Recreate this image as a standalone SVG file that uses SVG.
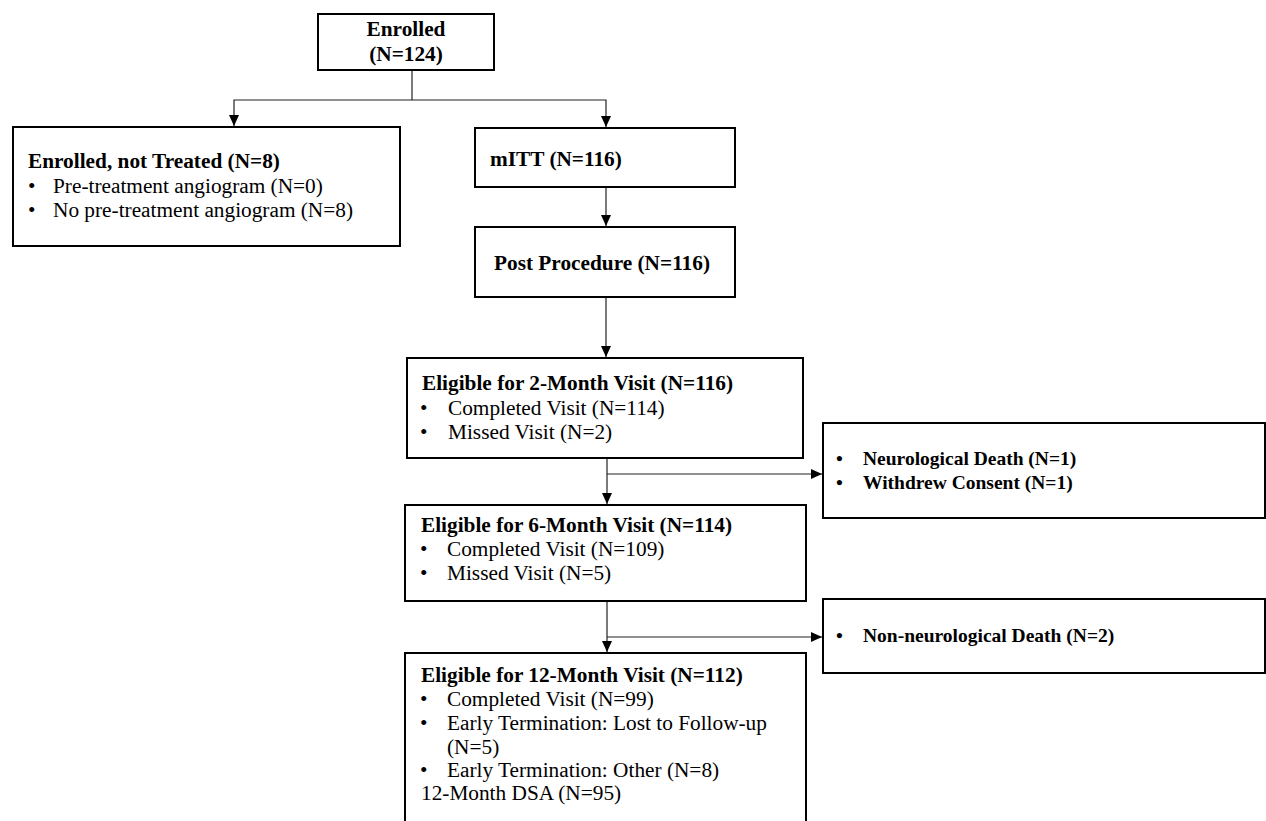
<svg xmlns="http://www.w3.org/2000/svg" width="1266" height="821" viewBox="0 0 1266 821">
<style>
  .box { fill: #ffffff; stroke: #000000; stroke-width: 2; }
  .t { font-family: "Liberation Serif", "Times New Roman", serif; font-size: 21.3px; fill: #000000; }
  .b { font-weight: bold; }
  .s { font-family: "Liberation Serif", "Times New Roman", serif; font-size: 19.5px; font-weight: bold; fill: #000000; }
  .c { fill: none; stroke: #222222; stroke-width: 1.2; }
</style>
<defs>
  <marker id="arr" markerUnits="userSpaceOnUse" markerWidth="12" markerHeight="12" refX="11" refY="5" orient="auto">
    <path d="M0,0 L11,5 L0,10 Z" fill="#000000"/>
  </marker>
</defs>
<rect width="1266" height="821" fill="#ffffff"/>

<g id="connectors">
  <path class="c" d="M412,70 V100"/>
  <path class="c" d="M412,100 H234 V126" marker-end="url(#arr)"/>
  <path class="c" d="M412,100 H606 V127" marker-end="url(#arr)"/>
  <path class="c" d="M606,187 V226" marker-end="url(#arr)"/>
  <path class="c" d="M606,297 V357" marker-end="url(#arr)"/>
  <path class="c" d="M607,458 V504" marker-end="url(#arr)"/>
  <path class="c" d="M607,474 H822" marker-end="url(#arr)"/>
  <path class="c" d="M607,601 V652" marker-end="url(#arr)"/>
  <path class="c" d="M607,637 H822" marker-end="url(#arr)"/>
</g>

<g id="enrolled">
  <rect class="box" x="318" y="14" width="176" height="56"/>
  <text class="t b" x="406" y="36" text-anchor="middle">Enrolled</text>
  <text class="t b" x="406" y="61" text-anchor="middle">(N=124)</text>
</g>

<g id="not-treated">
  <rect class="box" x="13" y="127" width="387" height="119"/>
  <text class="t b" x="28" y="168">Enrolled, not Treated (N=8)</text>
  <text class="t" x="28" y="193">•</text>
  <text class="t" x="53" y="193">Pre-treatment angiogram (N=0)</text>
  <text class="t" x="28" y="217">•</text>
  <text class="t" x="53" y="217">No pre-treatment angiogram (N=8)</text>
</g>

<g id="mitt">
  <rect class="box" x="475" y="128" width="260" height="59"/>
  <text class="t b" x="490" y="166">mITT (N=116)</text>
</g>

<g id="post-procedure">
  <rect class="box" x="475" y="227" width="260" height="70"/>
  <text class="t b" x="494" y="270">Post Procedure (N=116)</text>
</g>

<g id="month2">
  <rect class="box" x="407" y="358" width="396" height="100"/>
  <text class="t b" x="422" y="390">Eligible for 2-Month Visit (N=116)</text>
  <text class="t" x="420" y="415">•</text>
  <text class="t" x="448" y="415">Completed Visit (N=114)</text>
  <text class="t" x="420" y="439">•</text>
  <text class="t" x="448" y="439">Missed Visit (N=2)</text>
</g>

<g id="exit1">
  <rect class="box" x="823" y="423" width="442" height="95"/>
  <text class="s" x="836" y="465">•</text>
  <text class="s" x="863" y="465">Neurological Death (N=1)</text>
  <text class="s" x="836" y="489">•</text>
  <text class="s" x="863" y="489">Withdrew Consent (N=1)</text>
</g>

<g id="month6">
  <rect class="box" x="405" y="505" width="401" height="96"/>
  <text class="t b" x="421" y="532">Eligible for 6-Month Visit (N=114)</text>
  <text class="t" x="420" y="556">•</text>
  <text class="t" x="447" y="556">Completed Visit (N=109)</text>
  <text class="t" x="420" y="580">•</text>
  <text class="t" x="447" y="580">Missed Visit (N=5)</text>
</g>

<g id="exit2">
  <rect class="box" x="823" y="599" width="442" height="74"/>
  <text class="s" x="836" y="642">•</text>
  <text class="s" x="863" y="642">Non-neurological Death (N=2)</text>
</g>

<g id="month12">
  <rect class="box" x="405" y="653" width="401" height="180"/>
  <text class="t b" x="421" y="682">Eligible for 12-Month Visit (N=112)</text>
  <text class="t" x="420" y="706">•</text>
  <text class="t" x="447" y="706">Completed Visit (N=99)</text>
  <text class="t" x="420" y="730">•</text>
  <text class="t" x="447" y="730">Early Termination: Lost to Follow-up</text>
  <text class="t" x="447" y="754">(N=5)</text>
  <text class="t" x="420" y="777">•</text>
  <text class="t" x="447" y="777">Early Termination: Other (N=8)</text>
  <text class="t" x="421" y="800">12-Month DSA (N=95)</text>
</g>
</svg>
